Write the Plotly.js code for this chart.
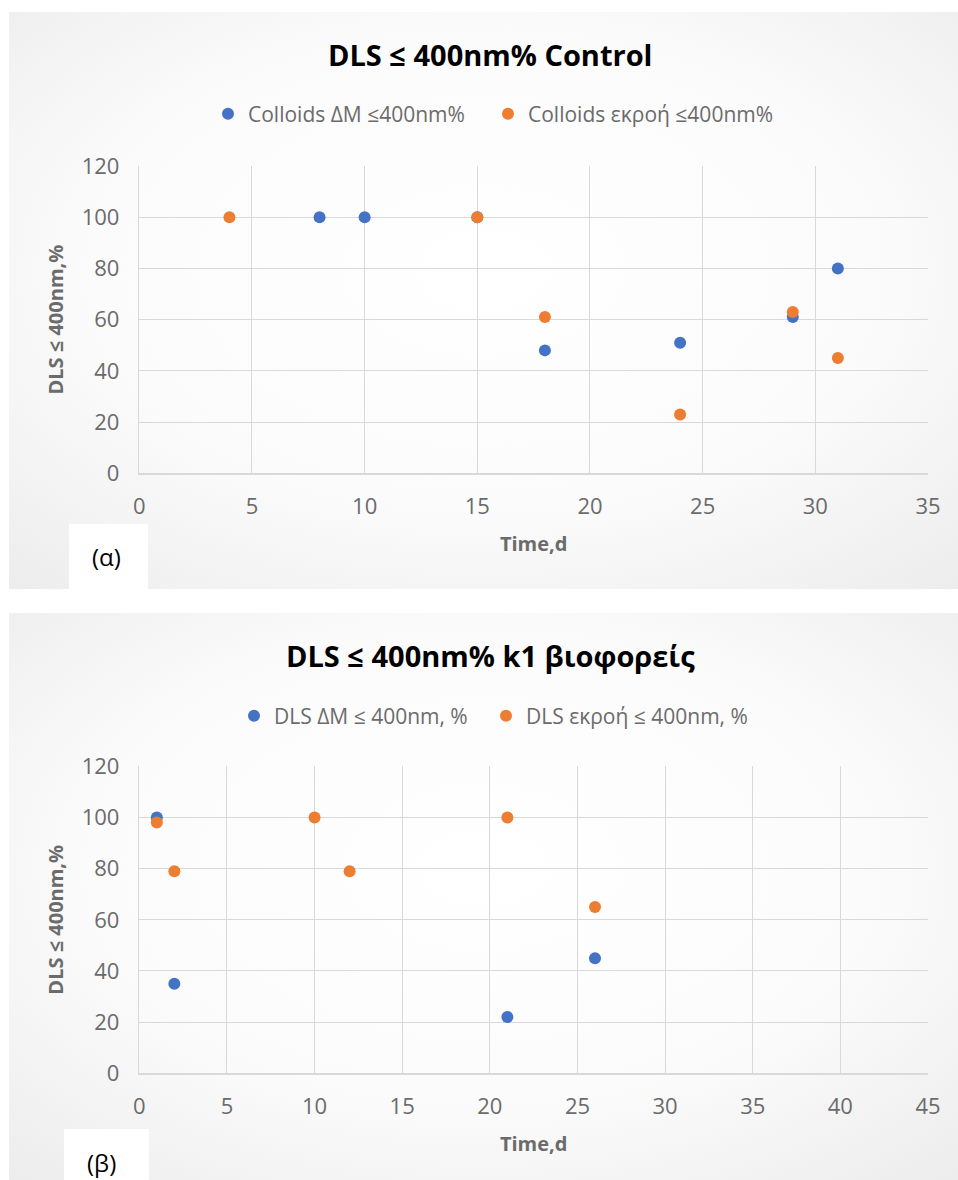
<!DOCTYPE html>
<html>
<head>
<meta charset="utf-8">
<script src="https://cdn.plot.ly/plotly-3.0.1.min.js"></script>
<style>
  html, body { margin: 0; padding: 0; background: #ffffff; }
  #chart { width: 958px; height: 1180px; }
</style>
</head>
<body>
<div id="chart"></div>
<script>
// ---- Chart (α): Control ----
const titleA = "DLS ≤ 400nm% Control";
const nameA1 = "Colloids ΔM ≤400nm%";
const nameA2 = "Colloids εκροή ≤400nm%";
const timeA1 = [8, 10, 15, 18, 24, 29, 31];
const valA1  = [100, 100, 100, 48, 51, 61, 80];
const timeA2 = [4, 15, 18, 24, 29, 31];
const valA2  = [100, 100, 61, 23, 63, 45];

// ---- Chart (β): k1 βιοφορείς ----
const titleB = "DLS ≤ 400nm% k1 βιοφορείς";
const nameB1 = "DLS ΔM ≤ 400nm, %";
const nameB2 = "DLS εκροή ≤ 400nm, %";
const timeB1 = [1, 2, 21, 26];
const valB1  = [100, 35, 22, 45];
const timeB2 = [1, 2, 10, 12, 21, 26];
const valB2  = [98, 79, 100, 79, 100, 65];

const xTitle = "Time,d";
const yTitle = "DLS ≤ 400nm,%";
const labelA = "(α)";
const labelB = "(β)";

const BLUE = "#4472C4";
const ORANGE = "#ED7D31";
const GRID = "#d9d9d9";
const TXT = "#6b6b6b";
const FONT = "'Open Sans', 'Noto Sans', 'DejaVu Sans', sans-serif";

const W = 958, H = 1180;
const px = v => v / W;
const py = v => 1 - v / H;

const marker = c => ({ color: c, size: 12 });

const traces = [
  { x: timeA1, y: valA1, name: nameA1, type: "scatter", mode: "markers", marker: marker(BLUE), xaxis: "x", yaxis: "y", legend: "legend" },
  { x: timeA2, y: valA2, name: nameA2, type: "scatter", mode: "markers", marker: marker(ORANGE), xaxis: "x", yaxis: "y", legend: "legend2" },
  { x: timeB1, y: valB1, name: nameB1, type: "scatter", mode: "markers", marker: marker(BLUE), xaxis: "x2", yaxis: "y2", legend: "legend3" },
  { x: timeB2, y: valB2, name: nameB2, type: "scatter", mode: "markers", marker: marker(ORANGE), xaxis: "x2", yaxis: "y2", legend: "legend4" }
];

const gradSvg = 'data:image/svg+xml;utf8,' + encodeURIComponent(
  '<svg xmlns="http://www.w3.org/2000/svg" width="100" height="100" preserveAspectRatio="none">' +
  '<defs><radialGradient id="g" cx="50%" cy="45%" r="75%">' +
  '<stop offset="0%" stop-color="#ffffff"/><stop offset="55%" stop-color="#fbfbfb"/><stop offset="100%" stop-color="#ececec"/>' +
  '</radialGradient></defs><rect width="100" height="100" fill="url(#g)"/></svg>');

const axisX = (range) => ({
  range: range, dtick: 5, tick0: 0,
  showgrid: true, gridcolor: GRID, gridwidth: 1,
  zeroline: false, showline: true, linecolor: GRID, linewidth: 1.5, mirror: false,
  ticks: "", ticklabelstandoff: 13,
  tickfont: { family: FONT, size: 22, color: TXT },
  title: { text: xTitle, font: { family: FONT, size: 20, color: TXT, weight: "bold" }, standoff: 18 },
  fixedrange: true
});
const axisY = () => ({
  range: [0, 120], dtick: 20, tick0: 0,
  showgrid: true, gridcolor: GRID, gridwidth: 1,
  zeroline: false, showline: true, linecolor: GRID, linewidth: 1.5,
  ticks: "", ticklabelstandoff: 14,
  tickfont: { family: FONT, size: 22, color: TXT },
  title: { text: yTitle, font: { family: FONT, size: 20, color: TXT, weight: "bold" }, standoff: 12 },
  fixedrange: true
});

const plotL = px(139.3), plotR = px(928);

const legendBase = (x, y) => ({
  orientation: "h", x: x, y: y, xanchor: "left", yanchor: "middle",
  itemwidth: 30,
  bgcolor: "rgba(0,0,0,0)", font: { family: FONT, size: 21, color: TXT }
});

const layout = {
  width: W, height: H,
  margin: { l: 0, r: 0, t: 0, b: 0 },
  paper_bgcolor: "#ffffff",
  plot_bgcolor: "rgba(0,0,0,0)",
  font: { family: FONT, color: TXT },
  showlegend: true,
  xaxis: Object.assign(axisX([0, 35]), { domain: [plotL, plotR], anchor: "y" }),
  yaxis: Object.assign(axisY(), { domain: [py(473.3), py(166)], anchor: "x" }),
  xaxis2: Object.assign(axisX([0, 45]), { domain: [plotL, plotR], anchor: "y2" }),
  yaxis2: Object.assign(axisY(), { domain: [py(1073.3), py(766.3)], anchor: "x2" }),
  legend: legendBase(px(208), py(114)),
  legend2: legendBase(px(488), py(114)),
  legend3: legendBase(px(234), py(716)),
  legend4: legendBase(px(486), py(716)),
  images: [
    { source: gradSvg, xref: "paper", yref: "paper", x: px(9), y: py(12), sizex: 1 - px(9), sizey: py(12) - py(589),
      xanchor: "left", yanchor: "top", sizing: "stretch", layer: "below" },
    { source: gradSvg, xref: "paper", yref: "paper", x: px(9), y: py(613), sizex: 1 - px(9), sizey: py(613),
      xanchor: "left", yanchor: "top", sizing: "stretch", layer: "below" }
  ],
  shapes: [
    { type: "rect", xref: "paper", yref: "paper", x0: px(69), x1: px(148), y0: py(589), y1: py(524),
      fillcolor: "#ffffff", line: { width: 0 }, layer: "above" },
    { type: "rect", xref: "paper", yref: "paper", x0: px(64), x1: px(149), y0: 0, y1: py(1129),
      fillcolor: "#ffffff", line: { width: 0 }, layer: "above" }
  ],
  annotations: [
    { text: titleA, xref: "paper", yref: "paper", x: px(490), y: py(55), xanchor: "center", yanchor: "middle",
      showarrow: false, font: { family: FONT, size: 29, color: "#000000", weight: "bold" } },
    { text: titleB, xref: "paper", yref: "paper", x: px(490), y: py(655), xanchor: "center", yanchor: "middle",
      showarrow: false, font: { family: FONT, size: 29, color: "#000000", weight: "bold" } },
    { text: labelA, xref: "paper", yref: "paper", x: px(106), y: py(556), xanchor: "center", yanchor: "middle",
      showarrow: false, font: { family: FONT, size: 24, color: "#000000" } },
    { text: labelB, xref: "paper", yref: "paper", x: px(101), y: py(1162), xanchor: "center", yanchor: "middle",
      showarrow: false, font: { family: FONT, size: 24, color: "#000000" } }
  ]
};

Plotly.newPlot("chart", traces, layout, { displayModeBar: false, staticPlot: true });
</script>
</body>
</html>
